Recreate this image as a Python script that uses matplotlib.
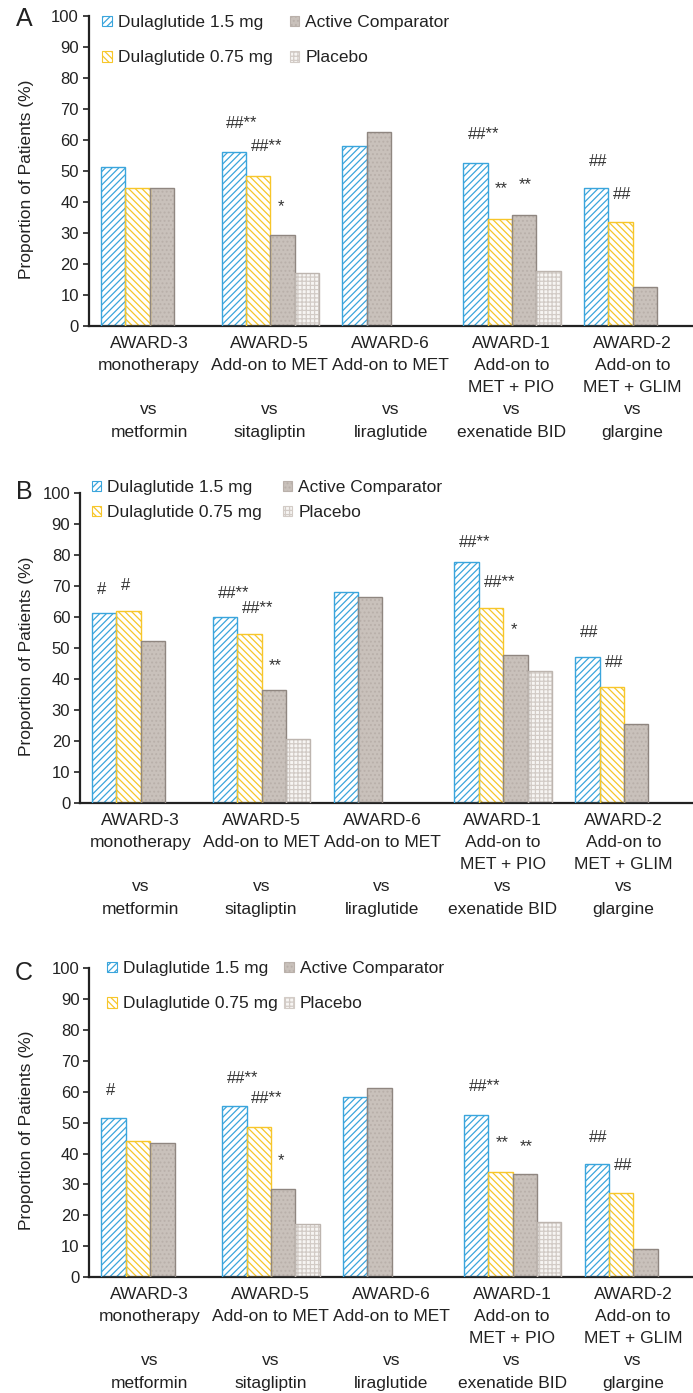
import matplotlib
matplotlib.use("Agg")
import matplotlib.pyplot as plt
from matplotlib.patches import Patch

plt.rcParams['font.family'] = ['Liberation Sans', 'DejaVu Sans']
plt.rcParams['hatch.linewidth'] = 0.9

# ---------------- data ----------------
categories = [
    "AWARD-3\nmonotherapy\n\nvs\nmetformin",
    "AWARD-5\nAdd-on to MET\n\nvs\nsitagliptin",
    "AWARD-6\nAdd-on to MET\n\nvs\nliraglutide",
    "AWARD-1\nAdd-on to\nMET + PIO\nvs\nexenatide BID",
    "AWARD-2\nAdd-on to\nMET + GLIM\nvs\nglargine",
]
series_names = ["Dulaglutide 1.5 mg", "Dulaglutide 0.75 mg", "Active Comparator", "Placebo"]
yticks = [0, 10, 20, 30, 40, 50, 60, 70, 80, 90, 100]

# Panel A (None = arm not studied)
a_dula15 = [51.2, 56.0, 58.0, 52.5, 44.4]
a_dula075 = [44.4, 48.4, None, 34.6, 33.4]
a_active = [44.4, 29.3, 62.5, 35.7, 12.5]
a_placebo = [None, 17.0, None, 17.6, None]
# Panel B
b_dula15 = [61.2, 60.0, 68.0, 77.8, 47.2]
b_dula075 = [62.0, 54.6, None, 62.8, 37.3]
b_active = [52.3, 36.6, 66.4, 47.8, 25.4]
b_placebo = [None, 20.7, None, 42.6, None]
# Panel C
c_dula15 = [51.4, 55.4, 58.2, 52.5, 36.5]
c_dula075 = [44.2, 48.6, None, 33.9, 27.1]
c_active = [43.5, 28.5, 61.2, 33.3, 9.0]
c_placebo = [None, 17.1, None, 17.7, None]

# significance marks: (category, series, text, baseline value)
a_marks = [(1, 0, "##**", 64.0), (1, 1, "##**", 56.5), (1, 2, "*", 37.0),
           (3, 0, "##**", 60.3), (3, 1, "**", 43.0), (3, 2, "**", 44.0),
           (4, 0, "##", 51.6), (4, 1, "##", 41.0)]
b_marks = [(0, 0, "#", 67.3), (0, 1, "#", 68.6),
           (1, 0, "##**", 66.2), (1, 1, "##**", 61.4), (1, 2, "**", 43.0),
           (3, 0, "##**", 82.6), (3, 1, "##**", 69.8), (3, 2, "*", 54.6),
           (4, 0, "##", 53.6), (4, 1, "##", 44.0)]
c_marks = [(0, 0, "#", 58.9),
           (1, 0, "##**", 62.9), (1, 1, "##**", 56.3), (1, 2, "*", 36.1),
           (3, 0, "##**", 60.3), (3, 1, "**", 42.1), (3, 2, "**", 40.8),
           (4, 0, "##", 43.7), (4, 1, "##", 34.7)]

# ---------------- styles ----------------
W, H = 693, 1393
fig = plt.figure(figsize=(W / 100, H / 100), dpi=100)

styles = [
    dict(face="white", hatch="/////", hcol="#3AA5DC", edge="#3AA5DC"),
    dict(face="white", hatch="\\\\\\\\\\", hcol="#F7C62A", edge="#F7C62A"),
    dict(face="#C9C1BB", hatch="....", hcol="#B9B0AA", edge="#8F8680"),
    dict(face="#F7F5F3", hatch="++++", hcol="#D2CBC6", edge="#BDB5AF"),
]

CAT_PX = 120.8
BAR_W = 0.202
OFFSET = 0.1
TXT = "#222222"


def draw_panel(letter, left_px, zero_px, top_px, series, marks, leg):
    x0 = left_px / W
    y0 = (H - zero_px) / H
    ax = fig.add_axes([x0, y0, 1 - x0, (zero_px - top_px) / H])
    ax.set_ylim(0, 100)
    ax.set_xlim(-0.5, -0.5 + (W - left_px) / CAT_PX)
    slot_left = {}
    for ci in range(len(categories)):
        k = 0
        for si, vals in enumerate(series):
            v = vals[ci]
            if v is None:
                continue
            xl = ci - 0.5 + OFFSET + k * BAR_W
            slot_left[(ci, si)] = xl
            st = styles[si]
            ax.bar(xl, v, width=BAR_W, align="edge", color=st["face"],
                   edgecolor=st["hcol"], hatch=st["hatch"], linewidth=0, zorder=2)
            ax.bar(xl, v, width=BAR_W, align="edge", fill=False,
                   edgecolor=st["edge"], linewidth=1.0, zorder=3)
            k += 1
    for ci, si, txt, yv in marks:
        xl = slot_left[(ci, si)]
        dx = 0.04 if "#" in txt else 0.06
        ax.text(xl + dx, yv, txt, fontsize=12, color="#333333",
                ha="left", va="baseline", zorder=4)
    for s in ["top", "right"]:
        ax.spines[s].set_visible(False)
    for s in ["left", "bottom"]:
        ax.spines[s].set_linewidth(1.6)
        ax.spines[s].set_color(TXT)
    ax.set_yticks(yticks)
    ax.tick_params(axis="y", labelsize=12, length=4, width=1.2,
                   colors=TXT, pad=3)
    ax.set_xticks(range(len(categories)))
    ax.set_xticklabels(categories, fontsize=12.5, linespacing=1.6)
    ax.tick_params(axis="x", length=0, pad=7, colors=TXT)
    ax.set_facecolor("none")

    fig.text(27 / W, (H - (zero_px + top_px) / 2 - 8) / H,
             "Proportion of Patients (%)", rotation=90, fontsize=12.5,
             ha="center", va="center", color=TXT)
    fig.text(24 / W, (H - leg["letter_y"]) / H, letter, fontsize=18,
             ha="center", va="center", color=TXT)

    handles = [Patch(facecolor=st["face"], edgecolor=st["hcol"], hatch=st["hatch"],
                     linewidth=0.8) for st in styles]
    ax.legend(handles, series_names, ncol=2, frameon=False,
              loc="upper left", bbox_to_anchor=(leg["x"] / W, (H - leg["y"]) / H),
              bbox_transform=fig.transFigure, fontsize=12.5,
              handlelength=0.55, handleheight=0.55, handletextpad=0.35,
              borderpad=0, borderaxespad=0, labelspacing=leg["ls"],
              columnspacing=leg["cs"], labelcolor=TXT)
    return ax


draw_panel("A", 88.7, 326, 16,
           [a_dula15, a_dula075, a_active, a_placebo], a_marks,
           dict(x=102, y=15, ls=1.18, cs=1.0, letter_y=19))
draw_panel("B", 80, 803, 493,
           [b_dula15, b_dula075, b_active, b_placebo], b_marks,
           dict(x=91.5, y=480, ls=0.58, cs=1.2, letter_y=492))
draw_panel("C", 89.3, 1277, 968.3,
           [c_dula15, c_dula075, c_active, c_placebo], c_marks,
           dict(x=107, y=961, ls=1.18, cs=0.4, letter_y=973))

fig.savefig("out.png", dpi=100)
